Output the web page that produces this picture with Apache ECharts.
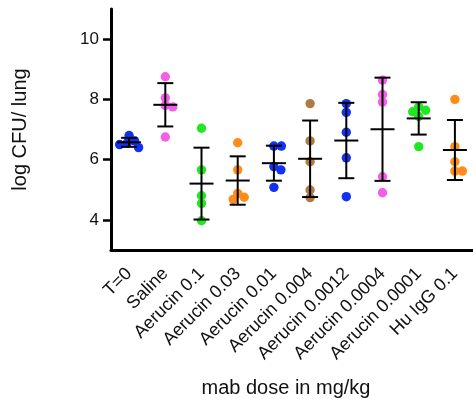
<!DOCTYPE html>
<html>
<head>
<meta charset="utf-8">
<script src="https://cdn.jsdelivr.net/npm/echarts@6/dist/echarts.min.js"></script>
<style>html,body{margin:0;padding:0;background:#fff;}#c{width:473px;height:399px;}</style>
</head>
<body>
<div id="c"></div>
<script>
const categories = ['T=0','Saline','Aerucin 0.1','Aerucin 0.03','Aerucin 0.01','Aerucin 0.004','Aerucin 0.0012','Aerucin 0.0004','Aerucin 0.0001','Hu IgG 0.1'];
const t0      = [6.80, 6.62, 6.55, 6.50, 6.40];
const saline  = [8.75, 8.05, 7.80, 7.75, 6.75];
const a0_1    = [7.04, 5.66, 4.80, 4.55, 3.97];
const a0_03   = [6.56, 5.66, 4.88, 4.75, 4.68];
const a0_01   = [6.45, 6.45, 5.77, 5.66, 5.08];
const a0_004  = [7.86, 6.62, 5.93, 4.99, 4.74];
const a0_0012 = [7.86, 7.57, 6.91, 6.06, 4.77];
const a0_0004 = [8.64, 8.16, 7.91, 5.43, 4.90];
const a0_0001 = [7.75, 7.64, 7.59, 7.43, 6.43];
const huIgG   = [8.00, 6.43, 5.93, 5.62, 5.62];
const yTicks = [4, 6, 8, 10];

const groups = [t0, saline, a0_1, a0_03, a0_01, a0_004, a0_0012, a0_0004, a0_0001, huIgG];
const BLUE = '#1232f0', PINK = '#f55ee8', GREEN = '#22e622', ORANGE = '#ff8c1a', BROWN = '#b07a45';
const colors = [BLUE, PINK, GREEN, ORANGE, BLUE, BROWN, BLUE, PINK, GREEN, ORANGE];

const dotData = groups.map((g, i) => [i].concat(g));
const statData = groups.map((g, i) => {
  const n = g.length;
  const mean = g.reduce((a, b) => a + b, 0) / n;
  const sd = Math.sqrt(g.reduce((a, b) => a + (b - mean) * (b - mean), 0) / (n - 1));
  return [i, mean, sd];
});

const R = 4.7, MIN_D = 7.5;
function renderDots(params, api) {
  const i = api.value(0);
  const pts = [];
  for (let k = 1; k <= 5; k++) pts.push(api.coord([i, api.value(k)]));
  const placed = [];
  const children = [];
  pts.forEach(p => {
    let off = 0;
    outer: for (let s = 0; s < 40; s++) {
      const cands = s === 0 ? [0] : [s * 0.5, -s * 0.5];
      for (const c of cands) {
        const ok = placed.every(q => Math.hypot(p[0] + c - q[0], p[1] - q[1]) >= MIN_D);
        if (ok) { off = c; break outer; }
      }
    }
    const pos = [p[0] + off, p[1]];
    placed.push(pos);
    children.push({ type: 'circle', shape: { cx: pos[0], cy: pos[1], r: R }, style: { fill: colors[i] } });
  });
  return { type: 'group', children };
}

function renderBars(params, api) {
  const i = api.value(0), m = api.value(1), sd = api.value(2);
  const c = api.coord([i, m]);
  const top = api.coord([i, m + sd]);
  const bot = api.coord([i, m - sd]);
  const st = { stroke: '#000', lineWidth: 2 };
  return { type: 'group', children: [
    { type: 'line', shape: { x1: c[0], y1: top[1], x2: c[0], y2: bot[1] }, style: st },
    { type: 'line', shape: { x1: c[0] - 8, y1: top[1], x2: c[0] + 8, y2: top[1] }, style: st },
    { type: 'line', shape: { x1: c[0] - 8, y1: bot[1], x2: c[0] + 8, y2: bot[1] }, style: st },
    { type: 'line', shape: { x1: c[0] - 12, y1: c[1], x2: c[0] + 12, y2: c[1] }, style: st }
  ]};
}

const chart = echarts.init(document.getElementById('c'), null, { renderer: 'canvas' });
const FONT = 'Liberation Sans, Arial, sans-serif';
chart.setOption({
  animation: false,
  backgroundColor: '#fff',
  grid: { left: 111, right: 0, top: 9, bottom: 149, containLabel: false, outerBoundsMode: 'none' },
  xAxis: {
    type: 'category',
    data: categories,
    boundaryGap: true,
    name: 'mab dose in mg/kg',
    nameLocation: 'middle',
    nameGap: 128,
    nameMoveOverlap: false,
    nameTextStyle: { fontSize: 20, color: '#111', fontFamily: FONT, padding: [0, 12, 0, 0] },
    axisLine: { lineStyle: { color: '#000', width: 3 } },
    axisTick: { alignWithLabel: true, length: 8, lineStyle: { color: '#000', width: 2.5 } },
    axisLabel: { rotate: 45, fontSize: 18, color: '#111', fontFamily: FONT, margin: 21, interval: 0 },
    splitLine: { show: false }
  },
  yAxis: {
    type: 'value',
    min: 3, max: 11,
    name: 'log CFU/ lung',
    nameLocation: 'middle',
    nameGap: 81,
    nameMoveOverlap: false,
    nameTextStyle: { fontSize: 20, color: '#111', fontFamily: FONT },
    axisLine: { show: true, lineStyle: { color: '#000', width: 3 } },
    axisTick: { show: true, length: 8, customValues: yTicks, lineStyle: { color: '#000', width: 2.5 } },
    axisLabel: { fontSize: 17, color: '#111', fontFamily: FONT, margin: 12, customValues: yTicks },
    splitLine: { show: false }
  },
  series: [
    { type: 'custom', data: dotData, encode: { x: 0, y: [1, 2, 3, 4, 5] }, renderItem: renderDots, z: 2, silent: true },
    { type: 'custom', data: statData, encode: { x: 0, y: 1 }, renderItem: renderBars, z: 3, silent: true }
  ]
});
</script>
</body>
</html>
